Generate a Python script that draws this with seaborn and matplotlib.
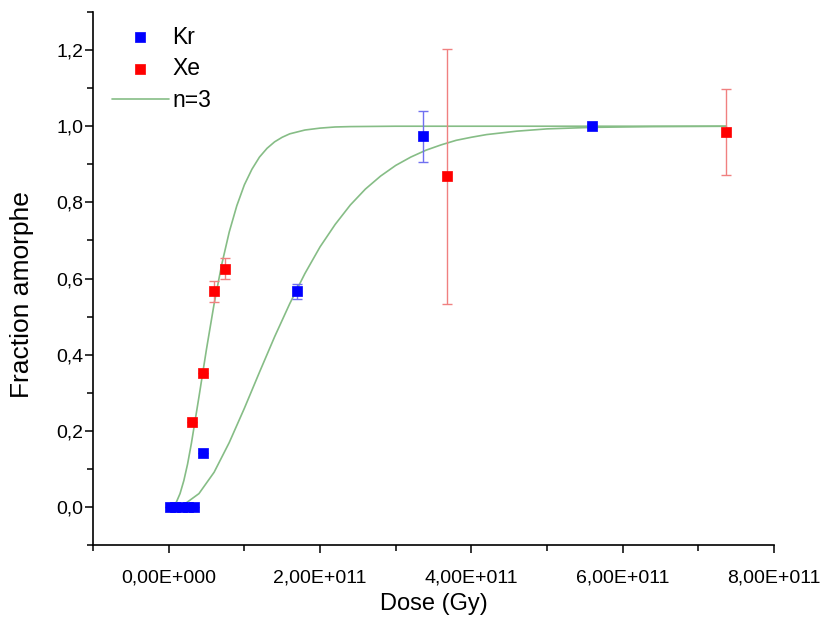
import pandas as pd
import matplotlib
matplotlib.use("Agg")
import matplotlib.pyplot as plt
import seaborn as sns
from matplotlib.ticker import MultipleLocator, FixedLocator, FixedFormatter

# Points mesurés (Kr)
kr_dose = [0.2e10, 0.9e10, 1.7e10, 2.5e10, 3.3e10, 4.6e10, 1.69e11, 3.36e11, 5.6e11]
kr_frac = [0.0, 0.0, 0.0, 0.0, 0.0, 0.142, 0.566, 0.973, 1.0]
kr_err = [0.0, 0.0, 0.0, 0.0, 0.0, 0.0, 0.019, 0.068, 0.005]

# Points mesurés (Xe)
xe_dose = [3.05e10, 4.54e10, 6.0e10, 7.46e10, 3.68e11, 7.37e11]
xe_frac = [0.224, 0.352, 0.566, 0.626, 0.868, 0.985]
xe_err = [0.0, 0.0, 0.028, 0.027, 0.336, 0.112]

# Courbes n=3
fit_xe_dose = [0.0, 0.05e11, 0.1e11, 0.15e11, 0.2e11, 0.25e11, 0.3e11, 0.4e11, 0.5e11,
               0.6e11, 0.7e11, 0.8e11, 0.9e11, 1.0e11, 1.1e11, 1.2e11, 1.3e11,
               1.4e11, 1.5e11, 1.6e11, 1.8e11, 2.0e11, 2.2e11, 2.4e11, 3.0e11, 7.37e11]
fit_xe_frac = [0.0, 0.002, 0.012, 0.035, 0.069, 0.113, 0.167, 0.289, 0.415,
               0.533, 0.636, 0.722, 0.791, 0.846, 0.887, 0.919, 0.942,
               0.959, 0.971, 0.980, 0.990, 0.995, 0.998, 0.999, 1.0, 1.0]

fit_kr_dose = [0.0, 0.2e11, 0.4e11, 0.6e11, 0.8e11, 1.0e11, 1.2e11, 1.4e11, 1.6e11,
               1.8e11, 2.0e11, 2.2e11, 2.4e11, 2.6e11, 2.8e11, 3.0e11, 3.2e11, 3.4e11,
               3.6e11, 3.8e11, 4.0e11, 4.2e11, 4.6e11, 5.0e11, 5.6e11, 6.4e11, 7.37e11]
fit_kr_frac = [0.0, 0.006, 0.035, 0.091, 0.169, 0.259, 0.354, 0.447, 0.534,
               0.613, 0.683, 0.742, 0.793, 0.835, 0.869, 0.897, 0.919, 0.937,
               0.951, 0.963, 0.971, 0.978, 0.987, 0.993, 0.997, 0.999, 1.0]

# Axes
x_ticks = [0.0, 2e11, 4e11, 6e11, 8e11]
x_labels = ["0,00E+000", "2,00E+011", "4,00E+011", "6,00E+011", "8,00E+011"]
y_ticks = [0.0, 0.2, 0.4, 0.6, 0.8, 1.0, 1.2]
y_labels = ["0,0", "0,2", "0,4", "0,6", "0,8", "1,0", "1,2"]

sns.set_style("ticks")
plt.rcParams["font.family"] = ["Liberation Sans", "DejaVu Sans"]
plt.rcParams["text.color"] = "black"
plt.rcParams["axes.labelcolor"] = "black"

kr = pd.DataFrame({"dose": kr_dose, "frac": kr_frac, "err": kr_err})
xe = pd.DataFrame({"dose": xe_dose, "frac": xe_frac, "err": xe_err})
fit_xe = pd.DataFrame({"dose": fit_xe_dose, "frac": fit_xe_frac})
fit_kr = pd.DataFrame({"dose": fit_kr_dose, "frac": fit_kr_frac})

fig = plt.figure(figsize=(8.21, 6.22), dpi=100)
ax = fig.add_axes([0.1133, 0.1238, 0.8295, 0.8569])

green = "#86bd86"
sns.lineplot(data=fit_xe, x="dose", y="frac", color=green, linewidth=1.2, ax=ax,
             label="n=3", zorder=2)
sns.lineplot(data=fit_kr, x="dose", y="frac", color=green, linewidth=1.2, ax=ax,
             zorder=2)

# barres d'erreur
ax.errorbar(kr["dose"], kr["frac"], yerr=kr["err"], fmt="none", ecolor="#7070f0",
            elinewidth=1.0, capsize=3.5, capthick=1.0, zorder=3)
ax.errorbar(xe["dose"], xe["frac"], yerr=xe["err"], fmt="none", ecolor="#f08080",
            elinewidth=1.0, capsize=3.5, capthick=1.0, zorder=3)

sns.scatterplot(data=kr, x="dose", y="frac", marker="s", s=45, color="#0000ff",
                edgecolor="#0000ff", linewidth=0.5, ax=ax, label="Kr", zorder=4)
sns.scatterplot(data=xe, x="dose", y="frac", marker="s", s=45, color="#ff0000",
                edgecolor="#ff0000", linewidth=0.5, ax=ax, label="Xe", zorder=4)

ax.set_xlim(-1e11, 8e11)
ax.set_ylim(-0.1, 1.3)
ax.xaxis.set_major_locator(FixedLocator(x_ticks))
ax.xaxis.set_major_formatter(FixedFormatter(x_labels))
ax.xaxis.set_minor_locator(MultipleLocator(1e11))
ax.yaxis.set_major_locator(FixedLocator(y_ticks))
ax.yaxis.set_major_formatter(FixedFormatter(y_labels))
ax.yaxis.set_minor_locator(MultipleLocator(0.1))
ax.tick_params(which="major", length=5.5, width=1.1, labelsize=14, color="black",
               labelcolor="black", direction="out")
ax.tick_params(which="minor", length=4, width=1.1, color="black", direction="out")
ax.tick_params(axis="x", which="major", pad=12)
ax.tick_params(axis="y", which="major", pad=1.5)
sns.despine(ax=ax)
for s in ["left", "bottom"]:
    ax.spines[s].set_color("black")
    ax.spines[s].set_linewidth(1.2)

ax.set_xlabel("Dose (Gy)", fontsize=17)
ax.set_ylabel("Fraction amorphe", fontsize=19)
ax.xaxis.set_label_coords(0.5, -0.09)
ax.yaxis.set_label_coords(-0.104, 0.47)
ax.xaxis.label.set_va("top")
ax.yaxis.label.set_va("center")

handles, labels = ax.get_legend_handles_labels()
order = [labels.index("Kr"), labels.index("Xe"), labels.index("n=3")]
ax.legend([handles[i] for i in order], [labels[i] for i in order],
          loc="upper left", bbox_to_anchor=(0.136, 0.959),
          bbox_transform=fig.transFigure, frameon=False, fontsize=16.5,
          handlelength=2.5, handletextpad=0.15, labelspacing=0.38,
          borderpad=0, borderaxespad=0)

fig.savefig("out.png", dpi=100)
